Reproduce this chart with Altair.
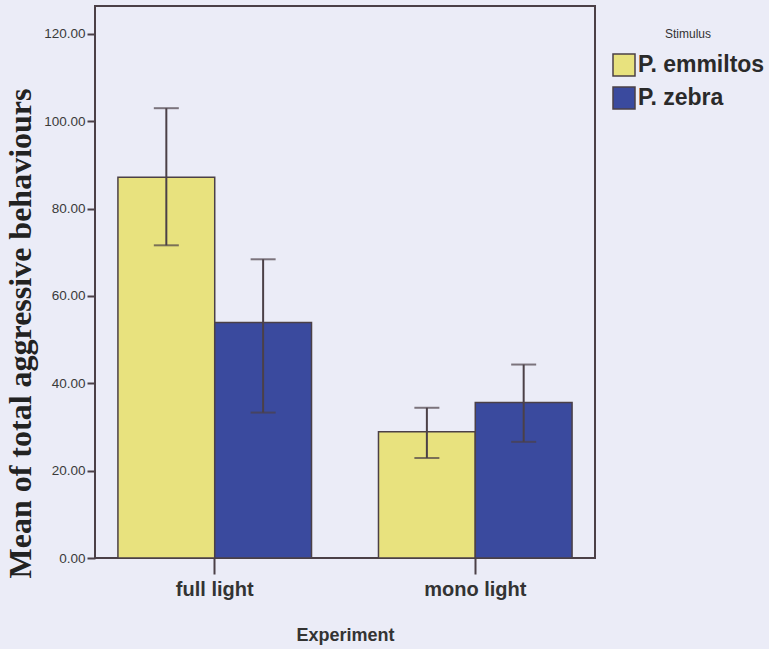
import altair as alt
import pandas as pd

# Group means with their error-bar limits
experiments = ["full light", "full light", "mono light", "mono light"]
stimuli = ["P. emmiltos", "P. zebra", "P. emmiltos", "P. zebra"]
means = [87.2, 53.9, 28.9, 35.6]
err_low = [71.6, 33.3, 22.9, 26.6]
err_high = [103.0, 68.4, 34.4, 44.3]

y_ticks = [0, 20, 40, 60, 80, 100, 120]
stimulus_order = ["P. emmiltos", "P. zebra"]
stimulus_colors = ["#e8e27e", "#3a4a9e"]

df = pd.DataFrame({
    "Experiment": experiments,
    "Stimulus": stimuli,
    "Mean": means,
    "Low": err_low,
    "High": err_high,
})

INK = "#4b4047"
BG = "#ebecf7"

x_enc = alt.X(
    "Experiment:N",
    scale=alt.Scale(paddingInner=0.257, paddingOuter=0.088),
    axis=alt.Axis(
        title="Experiment",
        labelAngle=0,
        labelFont="Liberation Sans",
        labelFontSize=20,
        labelFontWeight="bold",
        labelColor="#333333",
        labelPadding=5,
        tickSize=16,
        tickWidth=2,
        tickColor=INK,
        domain=False,
        titleFont="Liberation Sans",
        titleFontSize=18,
        titleFontWeight="bold",
        titleColor="#333333",
        titleY=68,
        titleBaseline="top",
    ),
)
xoff_enc = alt.XOffset(
    "Stimulus:N",
    sort=stimulus_order,
    scale=alt.Scale(paddingInner=0, paddingOuter=0),
)
y_scale = alt.Scale(domain=[0, 126.4], nice=False, zero=True)

bars = alt.Chart(df).mark_bar(stroke=INK, strokeWidth=1.5).encode(
    x=x_enc,
    xOffset=xoff_enc,
    y=alt.Y(
        "Mean:Q",
        scale=y_scale,
        axis=alt.Axis(
            title="Mean of total aggressive behaviours",
            values=y_ticks,
            format=".2f",
            grid=False,
            domain=False,
            labelFont="Liberation Sans",
            labelFontSize=13.5,
            labelColor="#3a3a3a",
            labelPadding=2,
            tickSize=8,
            tickWidth=2,
            tickColor=INK,
            titleFont="Liberation Serif",
            titleFontSize=32,
            titleFontWeight="bold",
            titleColor="#222222",
            titleAngle=270,
            titleAlign="center",
            titleBaseline="middle",
            titleX=-75,
            titleY=327,
        ),
    ),
    color=alt.Color(
        "Stimulus:N",
        sort=stimulus_order,
        scale=alt.Scale(domain=stimulus_order, range=stimulus_colors),
        legend=alt.Legend(
            title="Stimulus",
            orient="none",
            legendX=517,
            legendY=23,
            padding=0,
            titleFont="Liberation Sans",
            titleFontSize=12,
            titleFontWeight="normal",
            titleColor="#333333",
            titleAnchor="middle",
            titleAlign="center",
            titlePadding=12,
            labelFont="Liberation Sans",
            labelFontSize=23,
            labelFontWeight="bold",
            labelColor="#2a2a2a",
            labelOffset=2,
            symbolType="square",
            symbolSize=484,
            symbolStrokeColor=INK,
            symbolStrokeWidth=1.5,
            symbolOpacity=1,
            rowPadding=5,
        ),
    ),
)

whiskers = alt.Chart(df).mark_rule(color=INK, strokeWidth=2).encode(
    x=alt.X("Experiment:N"),
    xOffset=xoff_enc,
    y=alt.Y("Low:Q", scale=y_scale),
    y2="High:Q",
)

caps_top = alt.Chart(df).mark_tick(color=INK, size=25, thickness=2).encode(
    x=alt.X("Experiment:N"),
    xOffset=xoff_enc,
    y=alt.Y("High:Q", scale=y_scale),
)

caps_bottom = alt.Chart(df).mark_tick(color=INK, size=25, thickness=2).encode(
    x=alt.X("Experiment:N"),
    xOffset=xoff_enc,
    y=alt.Y("Low:Q", scale=y_scale),
)

chart = (
    alt.layer(bars, whiskers, caps_top, caps_bottom)
    .properties(
        width=500,
        height=552,
        autosize=alt.AutoSizeParams(type="none"),
        padding={"left": 95, "top": 6, "right": 174, "bottom": 91},
        background=BG,
    )
    .configure_view(fill=BG, stroke=INK, strokeWidth=2)
)

chart.save("out.html", embed_options={"renderer": "svg", "actions": False})
